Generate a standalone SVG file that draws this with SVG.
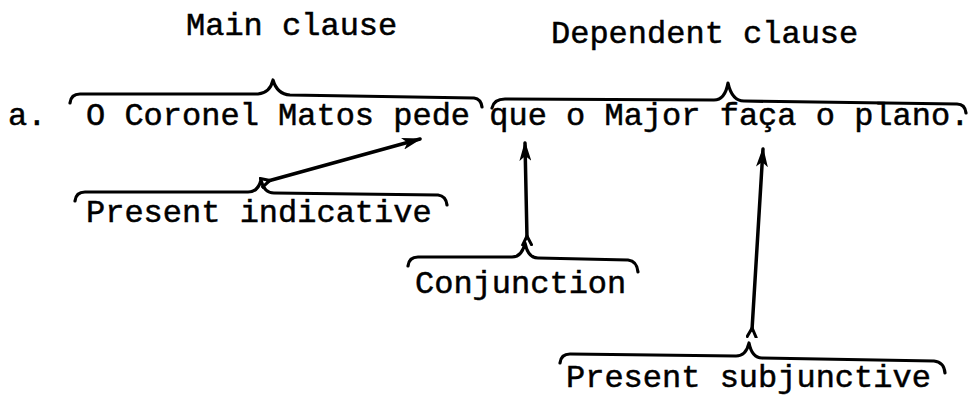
<svg xmlns="http://www.w3.org/2000/svg" width="977" height="404" viewBox="0 0 977 404">
<style>
text{font-family:"Liberation Mono","Courier New",monospace;font-size:32px;fill:#000;stroke:#000;stroke-width:0.5}
.brace{fill:none;stroke:#000;stroke-width:3.2;stroke-linecap:round;stroke-linejoin:round}
.arrow{fill:none;stroke:#000;stroke-width:3.5;stroke-linecap:round}
</style>
<defs>
<marker id="head" viewBox="0 0 20 12" refX="18" refY="6" markerWidth="20" markerHeight="12" markerUnits="userSpaceOnUse" orient="auto">
<path d="M0,0 L20,6 L0,12 L5,6 z" fill="#000"/>
</marker>
<marker id="tail" viewBox="0 0 12 12" refX="8" refY="6" markerWidth="12" markerHeight="12" markerUnits="userSpaceOnUse" orient="auto">
<path d="M0,1 L10,6 L0,11" fill="none" stroke="#000" stroke-width="3"/>
</marker>
</defs>
<rect width="977" height="404" fill="#fff"/>
<g id="sentence">
<text x="8" y="125">a.</text>
<text x="86" y="125">O Coronel Matos pede que o Major faça o plano.</text>
</g>
<g id="main-clause">
<text x="186" y="35">Main clause</text>
<path class="brace" d="M70,103 Q71,94 80,94 L258,94 Q270,93 273,80 Q277,94 290,95 L474,98 Q481,99 482,107"/>
</g>
<g id="dependent-clause">
<text x="551" y="43">Dependent clause</text>
<path class="brace" d="M492,108 Q494,99 505,99 L714,100 Q725,100 728,83 Q732,101 744,101 L957,104 Q965,104 966,113"/>
</g>
<g id="present-indicative">
<path class="brace" d="M75,201 Q76,192 85,192 L248,192 Q258,192 261,180 Q264,193 274,193 L438,195 Q446,196 447,205"/>
<text x="86" y="222">Present indicative</text>
</g>
<g id="conjunction">
<path class="brace" d="M408,266 Q409,257 418,257 L512,257 Q522,257 525,243 Q528,258 538,258 L628,260 Q637,261 638,272"/>
<text x="415" y="293">Conjunction</text>
</g>
<g id="present-subjunctive">
<path class="brace" d="M560,363 Q561,354 570,354 L736,356 Q746,356 749,343 Q752,358 762,358 L934,361 Q944,362 945,373"/>
<text x="566" y="387">Present subjunctive</text>
</g>
<g id="connectors">
<path class="arrow" d="M268,181 L420,139" marker-start="url(#tail)" marker-end="url(#head)"/>
<path class="arrow" d="M527,238 L525,143" marker-start="url(#tail)" marker-end="url(#head)"/>
<path class="arrow" d="M752,330 L763,149" marker-start="url(#tail)" marker-end="url(#head)"/>
</g>
</svg>
